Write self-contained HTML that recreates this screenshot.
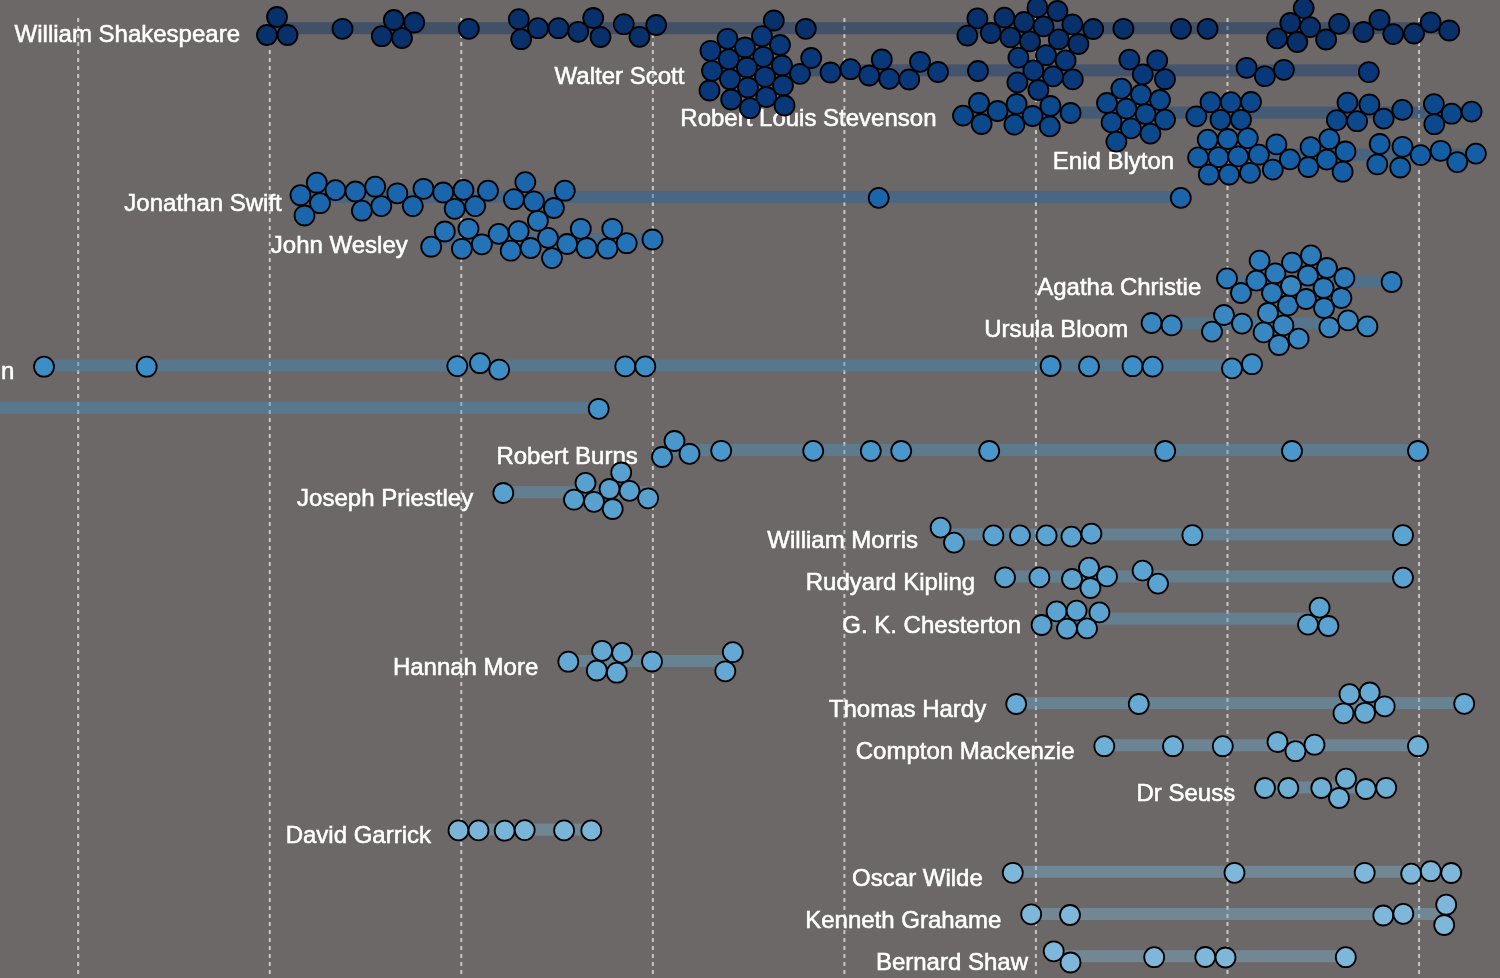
<!DOCTYPE html>
<html lang="en"><head><meta charset="utf-8"><title>Timeline</title>
<style>
html,body{margin:0;padding:0;background:#6c6867;overflow:hidden}
svg{display:block;will-change:transform}
text{font-family:"Liberation Sans",sans-serif;font-size:24px;fill:#fff;text-anchor:end;stroke:#fff;stroke-width:.55px}
.t{opacity:.999}
.g line{stroke:#c7c5c5;stroke-width:2;stroke-dasharray:4 4}
.b rect{height:12px;opacity:.4}
circle{stroke:#000;stroke-width:1.8}
</style></head>
<body>
<svg width="1500" height="978" viewBox="0 0 1500 978">
<rect width="1500" height="978" fill="#6c6867"/>
<g class="g"><line x1="78.2" x2="78.2" y1="18" y2="974"/><line x1="269.75" x2="269.75" y1="18" y2="974"/><line x1="461.3" x2="461.3" y1="18" y2="974"/><line x1="652.85" x2="652.85" y1="18" y2="974"/><line x1="844.4" x2="844.4" y1="18" y2="974"/><line x1="1035.95" x2="1035.95" y1="18" y2="974"/><line x1="1227.5" x2="1227.5" y1="18" y2="974"/><line x1="1419.05" x2="1419.05" y1="18" y2="974"/></g>
<g class="t"><text x="240" y="42.0">William Shakespeare</text><text x="684.4" y="84.2">Walter Scott</text><text x="936.5" y="126.4">Robert Louis Stevenson</text><text x="1174.2" y="168.5">Enid Blyton</text><text x="281.8" y="210.7">Jonathan Swift</text><text x="407.8" y="252.9">John Wesley</text><text x="1201.3" y="295.1">Agatha Christie</text><text x="1128.2" y="337.3">Ursula Bloom</text><text x="14.4" y="379.4">n</text><text x="637.8" y="463.8">Robert Burns</text><text x="473.2" y="506.0">Joseph Priestley</text><text x="918" y="548.2">William Morris</text><text x="975.2" y="590.3">Rudyard Kipling</text><text x="1021" y="632.5">G. K. Chesterton</text><text x="538.3" y="674.7">Hannah More</text><text x="986.2" y="716.9">Thomas Hardy</text><text x="1074.5" y="759.1">Compton Mackenzie</text><text x="1235.2" y="801.2">Dr Seuss</text><text x="431" y="843.4">David Garrick</text><text x="982.8" y="885.6">Oscar Wilde</text><text x="1001.3" y="927.8">Kenneth Grahame</text><text x="1028" y="970.0">Bernard Shaw</text></g>
<g class="b"><rect x="270" y="22.2" width="1177" fill="#08306b"/><rect x="714.4" y="64.4" width="653.6" fill="#09387a"/><rect x="966.5" y="106.6" width="504.5" fill="#0b498c"/><rect x="1204.2" y="148.7" width="271.8" fill="#145ea6"/><rect x="311.8" y="190.9" width="869.2" fill="#1b65ac"/><rect x="437.8" y="233.1" width="214.2" fill="#2473b7"/><rect x="1231.3" y="275.3" width="159.7" fill="#2c7bbb"/><rect x="1158.2" y="317.5" width="208.8" fill="#3887c1"/><rect x="44.4" y="359.6" width="1195.6" fill="#3d8dc6"/><rect x="-5" y="401.8" width="603" fill="#4292c8"/><rect x="667.8" y="444.0" width="750.2" fill="#4a98cb"/><rect x="503.2" y="486.2" width="144.8" fill="#58a1cf"/><rect x="948" y="528.4" width="455" fill="#5ba3d0"/><rect x="1005.2" y="570.5" width="397.8" fill="#5ba3d0"/><rect x="1051" y="612.7" width="269" fill="#5ba3d0"/><rect x="568.3" y="654.9" width="160.7" fill="#64a9d3"/><rect x="1016.2" y="697.1" width="447.8" fill="#67abd4"/><rect x="1104.5" y="739.3" width="313.5" fill="#6eafd6"/><rect x="1265.2" y="781.4" width="120.8" fill="#6eafd6"/><rect x="461" y="823.6" width="130" fill="#7ab5d8"/><rect x="1012.8" y="865.8" width="438.2" fill="#7eb7d9"/><rect x="1031.3" y="908.0" width="413.7" fill="#7eb7d9"/><rect x="1058" y="950.2" width="288" fill="#7eb7d9"/></g>
<g fill="#08306b"><circle cx="277.0" cy="17.0" r="10"/><circle cx="267.0" cy="35.0" r="10"/><circle cx="287.5" cy="35.0" r="10"/><circle cx="342.5" cy="28.8" r="10"/><circle cx="393.8" cy="20.0" r="10"/><circle cx="414.2" cy="22.5" r="10"/><circle cx="381.8" cy="36.2" r="10"/><circle cx="402.0" cy="38.0" r="10"/><circle cx="468.8" cy="28.8" r="10"/><circle cx="518.8" cy="19.2" r="10"/><circle cx="521.2" cy="39.2" r="10"/><circle cx="538.0" cy="28.2" r="10"/><circle cx="558.5" cy="28.2" r="10"/><circle cx="578.2" cy="31.8" r="10"/><circle cx="593.2" cy="18.0" r="10"/><circle cx="600.5" cy="37.0" r="10"/><circle cx="623.8" cy="24.2" r="10"/><circle cx="639.5" cy="36.8" r="10"/><circle cx="656.2" cy="25.0" r="10"/><circle cx="773.8" cy="20.5" r="10"/><circle cx="805.8" cy="28.8" r="10"/><circle cx="977.4" cy="18.4" r="10"/><circle cx="967.4" cy="35.6" r="10"/><circle cx="1004.4" cy="17.6" r="10"/><circle cx="990.8" cy="33.0" r="10"/><circle cx="1024.0" cy="22.0" r="10"/><circle cx="1010.4" cy="37.4" r="10"/><circle cx="1037.4" cy="7.4" r="10"/><circle cx="1057.4" cy="11.0" r="10"/><circle cx="1043.6" cy="26.4" r="10"/><circle cx="1030.0" cy="41.4" r="10"/><circle cx="1072.4" cy="24.4" r="10"/><circle cx="1058.8" cy="39.4" r="10"/><circle cx="1078.4" cy="44.0" r="10"/><circle cx="1093.2" cy="29.0" r="10"/><circle cx="1123.4" cy="28.8" r="10"/><circle cx="1181.0" cy="28.8" r="10"/><circle cx="1207.6" cy="28.8" r="10"/><circle cx="1303.7" cy="8.1" r="10"/><circle cx="1290.3" cy="23.0" r="10"/><circle cx="1310.1" cy="27.1" r="10"/><circle cx="1277.1" cy="38.4" r="10"/><circle cx="1297.3" cy="42.0" r="10"/><circle cx="1326.1" cy="39.5" r="10"/><circle cx="1339.1" cy="23.9" r="10"/><circle cx="1363.5" cy="32.0" r="10"/><circle cx="1379.5" cy="19.8" r="10"/><circle cx="1393.3" cy="34.1" r="10"/><circle cx="1414.0" cy="33.5" r="10"/><circle cx="1430.7" cy="22.4" r="10"/><circle cx="1449.2" cy="30.5" r="10"/></g>
<g fill="#09387a"><circle cx="727.5" cy="38.8" r="10"/><circle cx="762.0" cy="36.2" r="10"/><circle cx="780.0" cy="45.0" r="10"/><circle cx="710.5" cy="50.8" r="10"/><circle cx="745.0" cy="47.5" r="10"/><circle cx="728.8" cy="59.2" r="10"/><circle cx="763.2" cy="56.8" r="10"/><circle cx="782.0" cy="65.5" r="10"/><circle cx="712.0" cy="70.8" r="10"/><circle cx="747.0" cy="67.5" r="10"/><circle cx="730.0" cy="79.2" r="10"/><circle cx="765.0" cy="76.8" r="10"/><circle cx="783.0" cy="85.5" r="10"/><circle cx="709.5" cy="90.5" r="10"/><circle cx="748.0" cy="87.5" r="10"/><circle cx="731.2" cy="99.5" r="10"/><circle cx="766.2" cy="97.0" r="10"/><circle cx="750.0" cy="108.2" r="10"/><circle cx="784.5" cy="105.5" r="10"/><circle cx="800.0" cy="73.8" r="10"/><circle cx="811.2" cy="58.0" r="10"/><circle cx="830.5" cy="72.5" r="10"/><circle cx="850.5" cy="69.2" r="10"/><circle cx="869.2" cy="75.5" r="10"/><circle cx="881.8" cy="59.5" r="10"/><circle cx="889.2" cy="78.8" r="10"/><circle cx="909.2" cy="79.5" r="10"/><circle cx="920.0" cy="61.8" r="10"/><circle cx="938.0" cy="72.0" r="10"/><circle cx="978.0" cy="71.0" r="10"/><circle cx="1018.4" cy="57.6" r="10"/><circle cx="1046.0" cy="55.2" r="10"/><circle cx="1065.6" cy="60.4" r="10"/><circle cx="1033.4" cy="70.4" r="10"/><circle cx="1053.0" cy="76.4" r="10"/><circle cx="1017.4" cy="82.4" r="10"/><circle cx="1072.8" cy="79.4" r="10"/><circle cx="1038.4" cy="90.0" r="10"/><circle cx="1129.4" cy="59.6" r="10"/><circle cx="1157.2" cy="60.4" r="10"/><circle cx="1142.8" cy="74.4" r="10"/><circle cx="1165.0" cy="79.2" r="10"/><circle cx="1246.6" cy="67.8" r="10"/><circle cx="1264.9" cy="76.2" r="10"/><circle cx="1283.9" cy="69.8" r="10"/><circle cx="1368.8" cy="72.1" r="10"/></g>
<g fill="#0b498c"><circle cx="979.0" cy="103.0" r="10"/><circle cx="963.0" cy="115.6" r="10"/><circle cx="981.6" cy="124.0" r="10"/><circle cx="997.6" cy="111.0" r="10"/><circle cx="1016.6" cy="104.0" r="10"/><circle cx="1014.4" cy="124.6" r="10"/><circle cx="1032.6" cy="116.0" r="10"/><circle cx="1050.4" cy="106.0" r="10"/><circle cx="1049.8" cy="126.4" r="10"/><circle cx="1070.6" cy="113.0" r="10"/><circle cx="1121.4" cy="88.6" r="10"/><circle cx="1141.0" cy="94.6" r="10"/><circle cx="1160.0" cy="100.0" r="10"/><circle cx="1107.0" cy="103.0" r="10"/><circle cx="1126.4" cy="108.6" r="10"/><circle cx="1145.6" cy="114.0" r="10"/><circle cx="1165.0" cy="119.6" r="10"/><circle cx="1111.6" cy="122.4" r="10"/><circle cx="1131.0" cy="128.4" r="10"/><circle cx="1150.4" cy="133.6" r="10"/><circle cx="1116.4" cy="141.6" r="10"/><circle cx="1196.4" cy="116.3" r="10"/><circle cx="1210.5" cy="102.2" r="10"/><circle cx="1230.8" cy="102.2" r="10"/><circle cx="1251.0" cy="102.0" r="10"/><circle cx="1220.5" cy="119.8" r="10"/><circle cx="1241.0" cy="119.8" r="10"/><circle cx="1347.5" cy="102.6" r="10"/><circle cx="1369.4" cy="104.5" r="10"/><circle cx="1336.8" cy="120.1" r="10"/><circle cx="1357.1" cy="121.2" r="10"/><circle cx="1383.7" cy="118.6" r="10"/><circle cx="1402.3" cy="109.9" r="10"/><circle cx="1433.9" cy="104.1" r="10"/><circle cx="1434.3" cy="124.2" r="10"/><circle cx="1451.6" cy="113.7" r="10"/><circle cx="1471.6" cy="111.6" r="10"/></g>
<g fill="#145ea6"><circle cx="1207.7" cy="139.6" r="10"/><circle cx="1227.8" cy="139.0" r="10"/><circle cx="1247.8" cy="138.2" r="10"/><circle cx="1198.1" cy="157.4" r="10"/><circle cx="1218.4" cy="157.2" r="10"/><circle cx="1238.2" cy="156.4" r="10"/><circle cx="1258.9" cy="154.7" r="10"/><circle cx="1208.8" cy="174.5" r="10"/><circle cx="1229.1" cy="174.5" r="10"/><circle cx="1250.0" cy="172.8" r="10"/><circle cx="1276.4" cy="144.4" r="10"/><circle cx="1272.8" cy="169.6" r="10"/><circle cx="1289.9" cy="159.4" r="10"/><circle cx="1310.6" cy="147.2" r="10"/><circle cx="1308.4" cy="167.0" r="10"/><circle cx="1329.3" cy="139.1" r="10"/><circle cx="1326.8" cy="159.6" r="10"/><circle cx="1345.5" cy="151.5" r="10"/><circle cx="1342.6" cy="171.7" r="10"/><circle cx="1379.7" cy="144.0" r="10"/><circle cx="1377.3" cy="164.3" r="10"/><circle cx="1402.5" cy="146.8" r="10"/><circle cx="1400.2" cy="167.5" r="10"/><circle cx="1420.6" cy="155.1" r="10"/><circle cx="1440.7" cy="150.8" r="10"/><circle cx="1457.3" cy="162.1" r="10"/><circle cx="1475.9" cy="153.6" r="10"/></g>
<g fill="#1b65ac"><circle cx="316.8" cy="182.7" r="10"/><circle cx="300.5" cy="195.2" r="10"/><circle cx="320.0" cy="203.2" r="10"/><circle cx="304.5" cy="215.5" r="10"/><circle cx="335.5" cy="190.1" r="10"/><circle cx="355.5" cy="191.5" r="10"/><circle cx="375.2" cy="186.7" r="10"/><circle cx="361.9" cy="210.7" r="10"/><circle cx="381.3" cy="206.1" r="10"/><circle cx="397.3" cy="193.3" r="10"/><circle cx="412.8" cy="206.1" r="10"/><circle cx="423.5" cy="188.8" r="10"/><circle cx="443.2" cy="192.5" r="10"/><circle cx="463.5" cy="189.9" r="10"/><circle cx="454.7" cy="208.8" r="10"/><circle cx="475.2" cy="206.1" r="10"/><circle cx="488.0" cy="190.7" r="10"/><circle cx="525.3" cy="182.1" r="10"/><circle cx="513.9" cy="199.2" r="10"/><circle cx="533.9" cy="201.3" r="10"/><circle cx="564.8" cy="190.7" r="10"/><circle cx="553.9" cy="208.0" r="10"/><circle cx="878.7" cy="197.9" r="10"/><circle cx="1180.8" cy="197.9" r="10"/></g>
<g fill="#2473b7"><circle cx="431.2" cy="246.7" r="10"/><circle cx="444.8" cy="231.5" r="10"/><circle cx="468.5" cy="228.8" r="10"/><circle cx="461.9" cy="248.8" r="10"/><circle cx="481.9" cy="244.3" r="10"/><circle cx="498.7" cy="233.9" r="10"/><circle cx="518.7" cy="231.2" r="10"/><circle cx="510.7" cy="250.7" r="10"/><circle cx="530.7" cy="248.0" r="10"/><circle cx="548.0" cy="237.9" r="10"/><circle cx="552.0" cy="258.1" r="10"/><circle cx="567.2" cy="244.0" r="10"/><circle cx="580.8" cy="228.8" r="10"/><circle cx="586.7" cy="248.0" r="10"/><circle cx="607.5" cy="248.5" r="10"/><circle cx="612.3" cy="228.8" r="10"/><circle cx="626.7" cy="243.2" r="10"/><circle cx="652.5" cy="239.5" r="10"/><circle cx="537.9" cy="220.8" r="10"/></g>
<g fill="#2c7bbb"><circle cx="1227.0" cy="278.4" r="10"/><circle cx="1241.0" cy="293.0" r="10"/><circle cx="1259.6" cy="260.6" r="10"/><circle cx="1256.4" cy="280.6" r="10"/><circle cx="1275.4" cy="273.4" r="10"/><circle cx="1272.0" cy="293.0" r="10"/><circle cx="1292.0" cy="262.6" r="10"/><circle cx="1288.0" cy="305.4" r="10"/><circle cx="1311.0" cy="255.4" r="10"/><circle cx="1308.0" cy="275.6" r="10"/><circle cx="1306.0" cy="299.0" r="10"/><circle cx="1327.0" cy="268.0" r="10"/><circle cx="1323.6" cy="288.0" r="10"/><circle cx="1324.0" cy="308.0" r="10"/><circle cx="1344.4" cy="278.0" r="10"/><circle cx="1341.4" cy="298.0" r="10"/><circle cx="1391.6" cy="282.0" r="10"/></g>
<g fill="#3887c1"><circle cx="1151.6" cy="323.0" r="10"/><circle cx="1171.6" cy="325.4" r="10"/><circle cx="1224.0" cy="315.0" r="10"/><circle cx="1212.0" cy="331.6" r="10"/><circle cx="1242.0" cy="323.6" r="10"/><circle cx="1268.0" cy="313.0" r="10"/><circle cx="1263.6" cy="332.4" r="10"/><circle cx="1283.4" cy="325.4" r="10"/><circle cx="1279.0" cy="345.0" r="10"/><circle cx="1298.6" cy="338.6" r="10"/><circle cx="1329.4" cy="327.4" r="10"/><circle cx="1348.0" cy="320.4" r="10"/><circle cx="1367.4" cy="326.4" r="10"/><circle cx="1291.0" cy="286.0" r="10"/></g>
<g fill="#3d8dc6"><circle cx="44.0" cy="366.7" r="10"/><circle cx="146.7" cy="366.7" r="10"/><circle cx="457.3" cy="366.1" r="10"/><circle cx="480.0" cy="363.2" r="10"/><circle cx="499.2" cy="369.6" r="10"/><circle cx="625.3" cy="366.4" r="10"/><circle cx="645.3" cy="366.4" r="10"/><circle cx="1050.6" cy="366.0" r="10"/><circle cx="1089.0" cy="366.4" r="10"/><circle cx="1132.6" cy="366.2" r="10"/><circle cx="1152.6" cy="366.6" r="10"/><circle cx="1232.0" cy="368.4" r="10"/><circle cx="1252.0" cy="364.2" r="10"/></g>
<g fill="#4292c8"><circle cx="598.7" cy="408.8" r="10"/></g>
<g fill="#4a98cb"><circle cx="674.5" cy="441.0" r="10"/><circle cx="662.0" cy="457.0" r="10"/><circle cx="689.5" cy="453.8" r="10"/><circle cx="721.2" cy="450.8" r="10"/><circle cx="813.2" cy="450.9" r="10"/><circle cx="870.8" cy="451.0" r="10"/><circle cx="901.2" cy="451.0" r="10"/><circle cx="989.2" cy="451.0" r="10"/><circle cx="1165.2" cy="451.0" r="10"/><circle cx="1292.0" cy="451.0" r="10"/><circle cx="1418.0" cy="451.0" r="10"/></g>
<g fill="#58a1cf"><circle cx="503.3" cy="493.0" r="10"/><circle cx="585.5" cy="482.9" r="10"/><circle cx="621.2" cy="472.5" r="10"/><circle cx="609.5" cy="489.0" r="10"/><circle cx="629.5" cy="490.9" r="10"/><circle cx="574.0" cy="499.7" r="10"/><circle cx="594.0" cy="501.8" r="10"/><circle cx="612.7" cy="509.0" r="10"/><circle cx="648.1" cy="498.3" r="10"/></g>
<g fill="#5ba3d0"><circle cx="940.6" cy="527.6" r="10"/><circle cx="954.0" cy="542.6" r="10"/><circle cx="993.4" cy="535.4" r="10"/><circle cx="1020.0" cy="535.4" r="10"/><circle cx="1046.6" cy="535.4" r="10"/><circle cx="1071.4" cy="536.6" r="10"/><circle cx="1091.4" cy="533.6" r="10"/><circle cx="1192.4" cy="535.2" r="10"/><circle cx="1403.0" cy="535.2" r="10"/></g>
<g fill="#5ba3d0"><circle cx="1005.0" cy="577.4" r="10"/><circle cx="1039.4" cy="577.4" r="10"/><circle cx="1072.0" cy="579.0" r="10"/><circle cx="1089.0" cy="567.6" r="10"/><circle cx="1107.0" cy="576.4" r="10"/><circle cx="1090.4" cy="588.0" r="10"/><circle cx="1142.6" cy="570.6" r="10"/><circle cx="1158.0" cy="583.6" r="10"/><circle cx="1403.0" cy="577.6" r="10"/></g>
<g fill="#5ba3d0"><circle cx="1041.6" cy="625.0" r="10"/><circle cx="1056.6" cy="611.4" r="10"/><circle cx="1076.6" cy="610.6" r="10"/><circle cx="1099.4" cy="612.4" r="10"/><circle cx="1067.0" cy="628.6" r="10"/><circle cx="1087.0" cy="628.4" r="10"/><circle cx="1319.6" cy="607.6" r="10"/><circle cx="1308.0" cy="624.6" r="10"/><circle cx="1328.4" cy="626.0" r="10"/></g>
<g fill="#64a9d3"><circle cx="568.3" cy="661.7" r="10"/><circle cx="602.1" cy="650.8" r="10"/><circle cx="622.1" cy="652.9" r="10"/><circle cx="596.8" cy="670.5" r="10"/><circle cx="616.8" cy="672.7" r="10"/><circle cx="652.0" cy="661.5" r="10"/><circle cx="732.8" cy="652.1" r="10"/><circle cx="725.3" cy="671.3" r="10"/></g>
<g fill="#67abd4"><circle cx="1016.2" cy="704.0" r="10"/><circle cx="1138.8" cy="704.0" r="10"/><circle cx="1349.5" cy="694.2" r="10"/><circle cx="1369.7" cy="692.5" r="10"/><circle cx="1343.5" cy="713.3" r="10"/><circle cx="1365.0" cy="712.8" r="10"/><circle cx="1384.7" cy="706.3" r="10"/><circle cx="1464.2" cy="703.8" r="10"/></g>
<g fill="#6eafd6"><circle cx="1104.3" cy="746.2" r="10"/><circle cx="1173.0" cy="746.2" r="10"/><circle cx="1222.8" cy="746.2" r="10"/><circle cx="1277.5" cy="742.0" r="10"/><circle cx="1295.5" cy="751.2" r="10"/><circle cx="1314.5" cy="744.7" r="10"/><circle cx="1418.0" cy="746.2" r="10"/></g>
<g fill="#6eafd6"><circle cx="1265.0" cy="788.0" r="10"/><circle cx="1288.3" cy="788.0" r="10"/><circle cx="1321.3" cy="788.0" r="10"/><circle cx="1346.0" cy="778.7" r="10"/><circle cx="1339.0" cy="798.0" r="10"/><circle cx="1365.8" cy="789.0" r="10"/><circle cx="1386.2" cy="787.8" r="10"/></g>
<g fill="#7ab5d8"><circle cx="458.5" cy="830.4" r="10"/><circle cx="478.5" cy="830.4" r="10"/><circle cx="504.7" cy="830.7" r="10"/><circle cx="524.7" cy="830.1" r="10"/><circle cx="564.1" cy="830.4" r="10"/><circle cx="591.3" cy="830.4" r="10"/></g>
<g fill="#7eb7d9"><circle cx="1012.8" cy="872.8" r="10"/><circle cx="1234.5" cy="872.8" r="10"/><circle cx="1364.7" cy="872.8" r="10"/><circle cx="1411.2" cy="873.7" r="10"/><circle cx="1430.8" cy="871.2" r="10"/><circle cx="1451.2" cy="873.0" r="10"/></g>
<g fill="#7eb7d9"><circle cx="1031.2" cy="914.3" r="10"/><circle cx="1070.0" cy="915.0" r="10"/><circle cx="1383.3" cy="915.5" r="10"/><circle cx="1403.3" cy="913.8" r="10"/><circle cx="1446.2" cy="904.7" r="10"/><circle cx="1444.2" cy="925.0" r="10"/></g>
<g fill="#7eb7d9"><circle cx="1053.7" cy="951.3" r="10"/><circle cx="1070.5" cy="962.5" r="10"/><circle cx="1154.2" cy="957.2" r="10"/><circle cx="1205.3" cy="957.0" r="10"/><circle cx="1225.5" cy="957.5" r="10"/><circle cx="1345.8" cy="957.2" r="10"/></g>
</svg>
</body></html>
